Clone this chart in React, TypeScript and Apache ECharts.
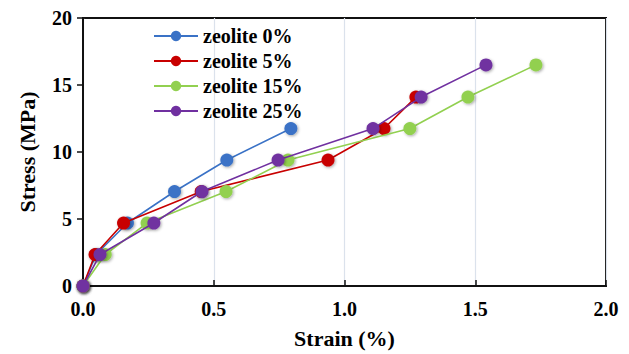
import React, { useEffect, useRef } from "react";
import * as echarts from "echarts";

const seriesNames = ["zeolite 0%", "zeolite 5%", "zeolite 15%", "zeolite 25%"];
const colors = ["#3a72c6", "#c80000", "#92d050", "#7030a0"];

const strain0 = [0, 0.05, 0.17, 0.35, 0.55, 0.795];
const stress0 = [0, 2.35, 4.7, 7.05, 9.4, 11.75];

const strain5 = [0, 0.046, 0.155, 0.452, 0.937, 1.151, 1.273];
const stress5 = [0, 2.35, 4.7, 7.05, 9.4, 11.75, 14.1];

const strain15 = [0, 0.085, 0.245, 0.547, 0.784, 1.25, 1.472, 1.732];
const stress15 = [0, 2.35, 4.7, 7.05, 9.4, 11.75, 14.1, 16.5];

const strain25 = [0, 0.065, 0.271, 0.455, 0.746, 1.109, 1.293, 1.541];
const stress25 = [0, 2.35, 4.7, 7.05, 9.4, 11.75, 14.1, 16.5];

const strains = [strain0, strain5, strain15, strain25];
const stresses = [stress0, stress5, stress15, stress25];

const FONT = "Liberation Serif";

export default function App() {
  const ref = useRef<HTMLDivElement>(null);
  useEffect(() => {
    if (!ref.current) return;
    const chart = echarts.init(ref.current, undefined, { renderer: "svg" });
    chart.setOption({
      animation: false,
      textStyle: { fontFamily: FONT },
      grid: {
        left: 83,
        right: 23,
        top: 18,
        bottom: 63,
        show: true,
        borderColor: "#111",
        borderWidth: 2,
        backgroundColor: "transparent",
      },
      legend: {
        orient: "vertical",
        left: 148,
        top: 21,
        itemWidth: 44,
        itemHeight: 13,
        itemGap: 5,
        data: seriesNames,
        textStyle: {
          fontFamily: FONT,
          fontWeight: "bold",
          fontSize: 20,
          color: "#000",
          lineHeight: 20,
        },
      },
      xAxis: {
        type: "value",
        min: 0,
        max: 2,
        interval: 0.5,
        name: "Strain (%)",
        nameLocation: "middle",
        nameGap: 41,
        nameTextStyle: { fontFamily: FONT, fontWeight: "bold", fontSize: 22, color: "#000" },
        axisLine: { lineStyle: { color: "#111", width: 2 } },
        axisTick: { inside: true, length: 6, lineStyle: { color: "#111", width: 1.5 } },
        axisLabel: {
          fontFamily: FONT,
          fontWeight: "bold",
          fontSize: 20,
          color: "#000",
          margin: 13,
          formatter: (v: number) => v.toFixed(1),
        },
        splitLine: { show: true, lineStyle: { color: "#dbe2ec", width: 1.2 } },
      },
      yAxis: {
        type: "value",
        min: 0,
        max: 20,
        interval: 5,
        name: "Stress (MPa)",
        nameLocation: "middle",
        nameGap: 45,
        nameTextStyle: { fontFamily: FONT, fontWeight: "bold", fontSize: 22, color: "#000" },
        axisLine: { show: true, lineStyle: { color: "#111", width: 2 } },
        axisTick: { show: true, inside: false, length: 6, lineStyle: { color: "#111", width: 1.5 } },
        axisLabel: {
          fontFamily: FONT,
          fontWeight: "bold",
          fontSize: 20,
          color: "#000",
          margin: 11,
        },
        splitLine: { show: false },
      },
      series: seriesNames.map((name, i) => ({
        name,
        type: "line",
        data: strains[i].map((x, j) => [x, stresses[i][j]]),
        symbol: "circle",
        symbolSize: 13,
        color: colors[i],
        lineStyle: { color: colors[i], width: 1.6 },
        itemStyle: {
          color: colors[i],
          shadowBlur: 3,
          shadowColor: "rgba(0,0,0,0.35)",
          shadowOffsetX: 1,
          shadowOffsetY: 1,
        },
        z: 2 + i,
      })),
    });
    return () => chart.dispose();
  }, []);
  return <div ref={ref} style={{ width: 629, height: 354, position: "absolute", left: 0, top: 0 }} />;
}
